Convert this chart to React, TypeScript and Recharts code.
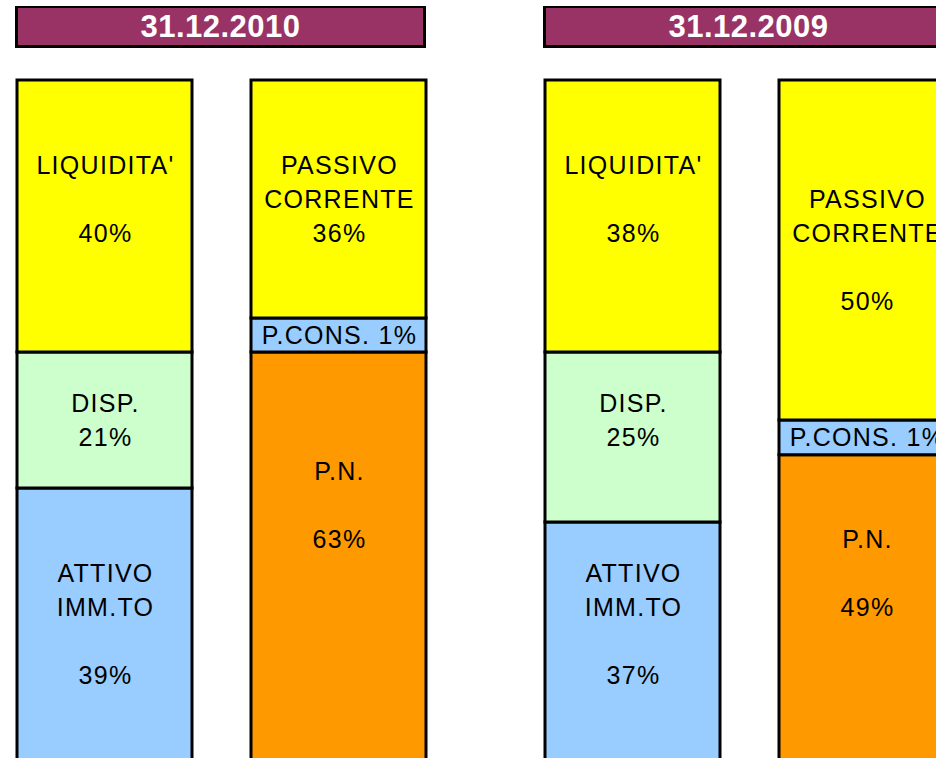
import { BarChart, Bar, XAxis, YAxis, Cell, LabelList } from "recharts";

// Two columns per date: impieghi (assets) on the left, fonti (sources) on the right
const sides = ["Impieghi", "Fonti"];

// Block heights as drawn, bottom -> middle -> top (each column sums to 100)
const bottomShare2010 = [40, 60];
const middleShare2010 = [20, 5];
const topShare2010 = [40, 35];
const bottomShare2009 = [35, 44.9];
const middleShare2009 = [25, 5.1];
const topShare2009 = [40, 50];

// Label lines inside each block (blank lines keep the Excel layout)
const bottomLabels2010 = [["ATTIVO", "IMM.TO", "", "39%"], ["P.N.", "", "63%", "", "", ""]];
const middleLabels2010 = [["DISP.", "21%"], ["P.CONS. 1%"]];
const topLabels2010 = [["LIQUIDITA'", "", "40%", ""], ["PASSIVO", "CORRENTE", "36%"]];
const bottomLabels2009 = [["ATTIVO", "IMM.TO", "", "37%", ""], ["P.N.", "", "49%", "", ""]];
const middleLabels2009 = [["DISP.", "25%", ""], ["P.CONS. 1%"]];
const topLabels2009 = [["LIQUIDITA'", "", "38%", ""], ["PASSIVO", "CORRENTE", "", "50%"]];

const bottomColors = ["#99CCFF", "#FF9900"];
const middleColors = ["#CCFFCC", "#99CCFF"];
const topColors = ["#FFFF00", "#FFFF00"];

const FONT = "'Liberation Sans', Arial, sans-serif";
const LINE = 34;

function blockLabel(lines: string[][]) {
  return (props: any) => {
    const box = props.viewBox && props.viewBox.width != null ? props.viewBox : props;
    const { x, y, width, height } = box;
    const ls = lines[props.index] ?? [];
    const cx = x + width / 2;
    const cy = y + height / 2;
    return (
      <text textAnchor="middle" fontSize={25} letterSpacing={1.3} fill="#000" fontFamily={FONT}>
        {ls.map((l, i) => (
          <tspan key={i} x={cx + 1} y={cy + (i - (ls.length - 1) / 2) * LINE + 9}>
            {l}
          </tspan>
        ))}
      </text>
    );
  };
}

function Panel(props: {
  period: string;
  left: number;
  bottom: number[];
  middle: number[];
  top: number[];
  bottomLabels: string[][];
  middleLabels: string[][];
  topLabels: string[][];
}) {
  const data = sides.map((name, i) => ({
    name,
    bottom: props.bottom[i],
    middle: props.middle[i],
    top: props.top[i],
  }));

  return (
    <>
      <div
        style={{
          position: "absolute",
          left: props.left - 88.5,
          top: 6,
          width: 411,
          height: 42,
          boxSizing: "border-box",
          border: "3px solid #000",
          borderTopWidth: 2,
          background: "#993366",
          color: "#fff",
          fontFamily: FONT,
          fontWeight: "bold",
          fontSize: 31,
          letterSpacing: 0.5,
          display: "flex",
          alignItems: "center",
          justifyContent: "center",
        }}
      >
        {props.period}
      </div>
      <div style={{ position: "absolute", left: props.left - 117, top: 76 }}>
        <BarChart
          width={468}
          height={690}
          data={data}
          margin={{ top: 4, right: 0, bottom: 6, left: 0 }}
          barSize={175}
        >
          <XAxis dataKey="name" hide />
          <YAxis hide domain={[0, 100]} />
          <Bar dataKey="bottom" stackId="s" stroke="#000" strokeWidth={3} isAnimationActive={false}>
            {data.map((_, i) => (
              <Cell key={i} fill={bottomColors[i]} />
            ))}
            <LabelList content={blockLabel(props.bottomLabels)} />
          </Bar>
          <Bar dataKey="middle" stackId="s" stroke="#000" strokeWidth={3} isAnimationActive={false}>
            {data.map((_, i) => (
              <Cell key={i} fill={middleColors[i]} />
            ))}
            <LabelList content={blockLabel(props.middleLabels)} />
          </Bar>
          <Bar dataKey="top" stackId="s" stroke="#000" strokeWidth={3} isAnimationActive={false}>
            {data.map((_, i) => (
              <Cell key={i} fill={topColors[i]} />
            ))}
            <LabelList content={blockLabel(props.topLabels)} />
          </Bar>
        </BarChart>
      </div>
    </>
  );
}

export default function App() {
  return (
    <div
      style={{
        position: "absolute",
        left: 0,
        top: 0,
        width: 936,
        height: 758,
        overflow: "hidden",
        background: "#fff",
      }}
    >
      <Panel
        period="31.12.2010"
        left={103.5}
        bottom={bottomShare2010}
        middle={middleShare2010}
        top={topShare2010}
        bottomLabels={bottomLabels2010}
        middleLabels={middleLabels2010}
        topLabels={topLabels2010}
      />
      <Panel
        period="31.12.2009"
        left={631.5}
        bottom={bottomShare2009}
        middle={middleShare2009}
        top={topShare2009}
        bottomLabels={bottomLabels2009}
        middleLabels={middleLabels2009}
        topLabels={topLabels2009}
      />
    </div>
  );
}
